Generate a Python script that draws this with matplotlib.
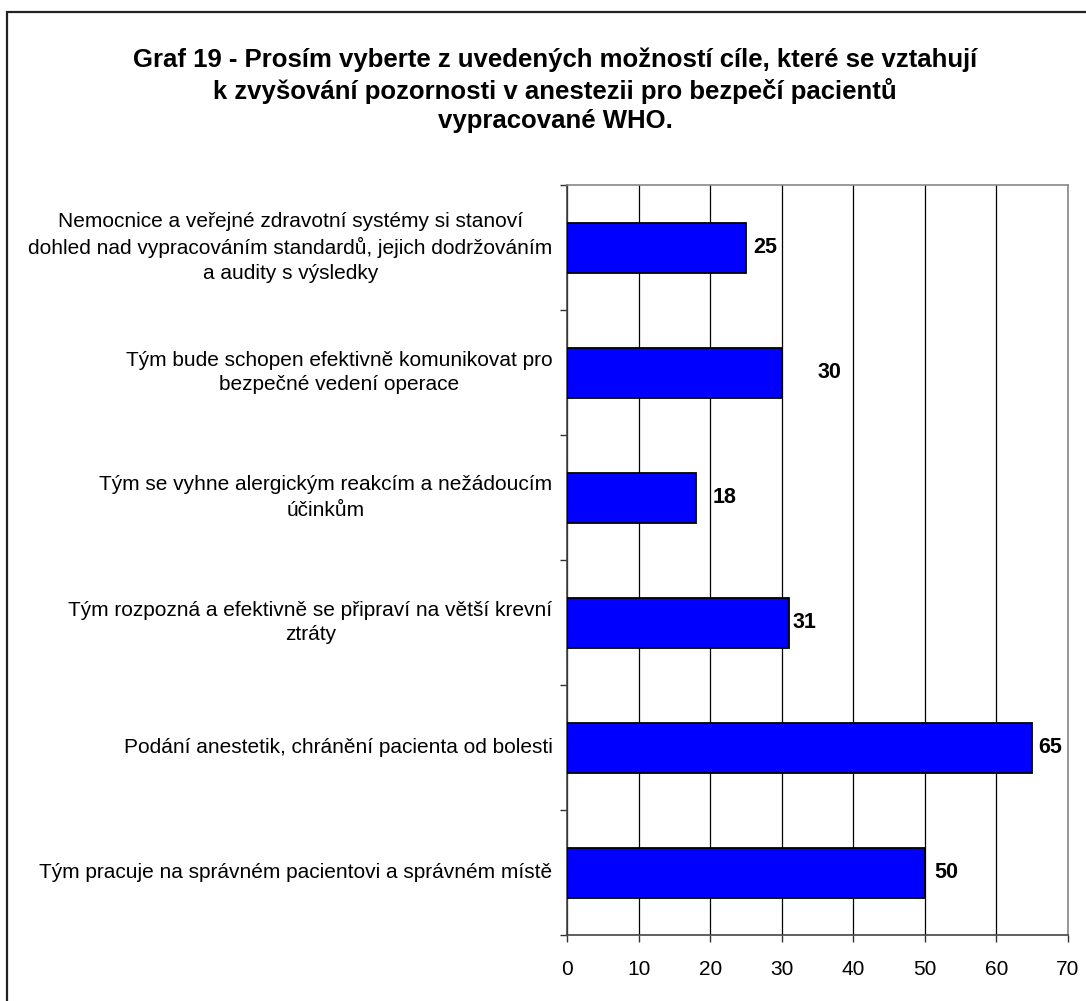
import matplotlib
matplotlib.use("Agg")
import matplotlib.pyplot as plt
from matplotlib.patches import Rectangle
from matplotlib.transforms import blended_transform_factory

plt.rcParams.update({
    "font.family": ["Liberation Sans", "DejaVu Sans"],
    "font.size": 15,
    "text.color": "black",
})

TITLE = ("Graf 19 - Prosím vyberte z uvedených možností cíle, které se vztahují\n"
         "k zvyšování pozornosti v anestezii pro bezpečí pacientů\n"
         "vypracované WHO.")

categories = [
    "Nemocnice a veřejné zdravotní systémy si stanoví\n"
    "dohled nad vypracováním standardů, jejich dodržováním\n"
    "a audity s výsledky",
    "Tým bude schopen efektivně komunikovat pro\nbezpečné vedení operace",
    "Tým se vyhne alergickým reakcím a nežádoucím\núčinkům",
    "Tým rozpozná a efektivně se připraví na větší krevní\nztráty",
    "Podání anestetik, chránění pacienta od bolesti",
    "Tým pracuje na správném pacientovi a správném místě",
]
values = [25, 30, 18, 31, 65, 50]
x_ticks = [0, 10, 20, 30, 40, 50, 60, 70]

# horizontal gap (in pixels) between bar end and its value label
label_gap_px = [7, 36, 17, 4, 6, 9]

W, H = 1086, 1001
fig = plt.figure(figsize=(W / 100, H / 100), dpi=100)
fig.patch.set_facecolor("white")

# outer frame
fig.add_artist(Rectangle((7 / W, -0.05), 1.2, 1 - 12 / H + 0.05,
                         transform=fig.transFigure, fill=False,
                         edgecolor="#222222", linewidth=1.6))

fig.text(555 / W, 1 - 90 / H, TITLE, ha="center", va="center",
         fontsize=18.5, fontweight="bold", linespacing=1.27)

ax = fig.add_axes([567 / W, 1 - 935 / H, 501 / W, 750 / H])
y = list(range(len(categories)))
ax.barh(y, values, height=0.4, color="#0000FF", edgecolor="black",
        linewidth=1.3, zorder=3)
ax.set_ylim(len(categories) - 0.5, -0.5)
ax.set_xlim(0, 70)

ax.set_xticks(x_ticks)
ax.set_xticklabels([str(t) for t in x_ticks], fontsize=15)
ax.set_yticks([i - 0.5 for i in range(len(categories) + 1)])
ax.set_yticklabels([])
ax.tick_params(axis="both", direction="out", length=5, width=1,
               color="#333333")
ax.tick_params(axis="x", pad=13)

ax.grid(axis="x", color="black", linewidth=0.9, zorder=1)
ax.set_axisbelow(True)
for side in ("top", "right"):
    ax.spines[side].set_color("#888888")
    ax.spines[side].set_linewidth(1.2)
for side in ("left", "bottom"):
    ax.spines[side].set_color("#444444")
    ax.spines[side].set_linewidth(1.2)

trans = blended_transform_factory(ax.transAxes, ax.transData)
for i, label in enumerate(categories):
    ax.annotate(label, xy=(0, i), xycoords=trans, xytext=(-10.5, 0),
                textcoords="offset points", ha="right", va="center",
                multialignment="center", fontsize=15, linespacing=1.4)

for i, (v, gap) in enumerate(zip(values, label_gap_px)):
    ax.annotate(str(v), xy=(v, i), xytext=(gap * 0.72, 0),
                textcoords="offset points", ha="left", va="center",
                fontsize=15.5, fontweight="bold")

fig.savefig("out.png", dpi=100)
